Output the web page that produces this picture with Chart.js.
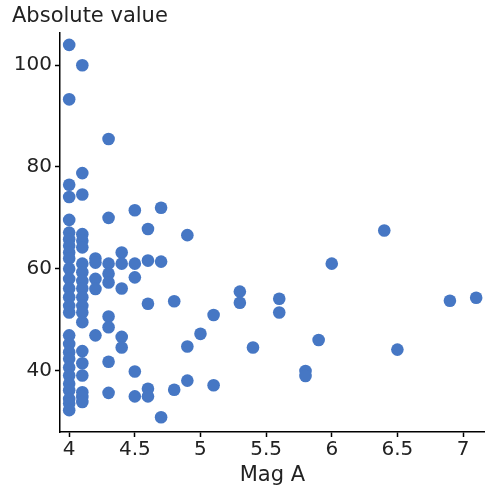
<!DOCTYPE html>
<html>
<head>
<meta charset="utf-8">
<script src="https://cdn.jsdelivr.net/npm/chart.js@4.4.0/dist/chart.umd.min.js"></script>
<style>
    html, body { margin: 0; padding: 0; background: #fff; }
    #wrap { width: 491px; height: 492px; }
</style>
</head>
<body>
<div id="wrap"><canvas id="chart1"></canvas></div>
<script>
// magnitude of star A and the absolute value, one entry per star
var magA = [
    4, 4, 4, 4, 4, 4, 4, 4, 4, 4, 4, 4, 4, 4, 4, 4, 4, 4, 4, 4, 4, 4, 4, 4, 4, 4, 4,
    4.1, 4.1, 4.1, 4.1, 4.1, 4.1, 4.1, 4.1, 4.1, 4.1, 4.1, 4.1, 4.1, 4.1, 4.1, 4.1, 4.1, 4.1, 4.1, 4.1,
    4.2, 4.2, 4.2, 4.2, 4.2,
    4.3, 4.3, 4.3, 4.3, 4.3, 4.3, 4.3, 4.3, 4.3,
    4.4, 4.4, 4.4, 4.4, 4.4,
    4.5, 4.5, 4.5, 4.5, 4.5,
    4.6, 4.6, 4.6, 4.6, 4.6,
    4.7, 4.7, 4.7,
    4.8, 4.8,
    4.9, 4.9, 4.9,
    5.0,
    5.1, 5.1,
    5.3, 5.3,
    5.4,
    5.6, 5.6,
    5.8, 5.8,
    5.9,
    6.0,
    6.4,
    6.5,
    6.9,
    7.1
]
var absValue = [
    104, 93.3, 76.5, 74.1, 69.6, 67.1, 65.8, 64.5, 63.2, 62, 60, 58, 56.1, 54.4, 52.7, 51.4, 46.9, 45.2, 43.6, 42.3, 40.6, 39.0, 37.4, 36.1, 34.4, 33.5, 32.2,
    100, 78.8, 74.6, 66.8, 65.5, 64.2, 61, 59.3, 57.6, 56.1, 54.4, 52.7, 51.4, 49.5, 43.8, 41.4, 39, 35.7, 34.8, 33.8,
    62, 61.2, 58, 56, 46.9,
    85.5, 70, 61, 59, 57.3, 50.6, 48.5, 41.7, 35.6,
    63.2, 61, 56.1, 46.6, 44.5,
    71.5, 61, 58.3, 39.8, 34.9,
    67.8, 61.6, 53.1, 36.4, 34.9,
    72, 61.4, 30.8,
    53.6, 36.2,
    66.6, 44.7, 38,
    47.2,
    50.9, 37.1,
    55.5, 53.3,
    44.5,
    54.1, 51.4,
    39.9, 38.9,
    46,
    61,
    67.5,
    44.1,
    53.7,
    54.3
]

var xTicks = [4, 4.5, 5, 5.5, 6, 6.5, 7]
var yTicks = [40, 60, 80, 100]

var points = []
for (var i = 0; i < magA.length; i++) {
    points.push({ x: magA[i], y: absValue[i] })
}

var blue = '#4677c4'
var ink = '#222'
var tickFont = { family: 'DejaVu Sans', size: 20 }
var titleFont = { family: 'DejaVu Sans', size: 21, weight: 'normal' }

function fixedTicks(list) {
    return function(scale) {
        scale.ticks = list.map(function(v) { return { value: v } })
    }
}

new Chart(document.getElementById('chart1'), {
    type: 'scatter',
    data: {
        datasets: [{
            data: points,
            backgroundColor: blue,
            borderColor: blue,
            borderWidth: 0,
            pointRadius: 6.3,
        }]
    },
    options: {
        responsive: true,
        maintainAspectRatio: false,
        animation: false,
        layout: { padding: { left: 12, right: 3, top: 0, bottom: 0 } },
        plugins: {
            legend: { display: false },
            tooltip: { enabled: false },
            title: {
                display: true,
                text: 'Absolute value',
                align: 'start',
                color: ink,
                font: titleFont,
                padding: { top: 4, bottom: 4 },
            },
        },
        scales: {
            x: {
                type: 'linear',
                min: 3.93,
                max: 7.165,
                afterBuildTicks: fixedTicks(xTicks),
                afterFit: function(scale) { scale.height = 60 },
                border: { display: true, color: '#000', width: 1.5 },
                grid: { drawOnChartArea: false, drawTicks: true, tickLength: 5, color: '#000', tickWidth: 1.5 },
                ticks: {
                    color: ink,
                    font: tickFont,
                    padding: 1,
                    callback: function(value) { return '' + value },
                },
                title: { display: true, text: 'Mag A', color: ink, font: titleFont, padding: { top: 0, bottom: 4 } },
            },
            y: {
                type: 'linear',
                min: 27.9,
                max: 106.3,
                afterBuildTicks: fixedTicks(yTicks),
                afterFit: function(scale) { scale.width = 48 },
                border: { display: true, color: '#000', width: 1.5 },
                grid: { drawOnChartArea: false, drawTicks: true, tickLength: 5, color: '#000', tickWidth: 1.5 },
                ticks: { color: ink, font: tickFont, padding: 3 },
            },
        },
    },
});
</script>
</body>
</html>
